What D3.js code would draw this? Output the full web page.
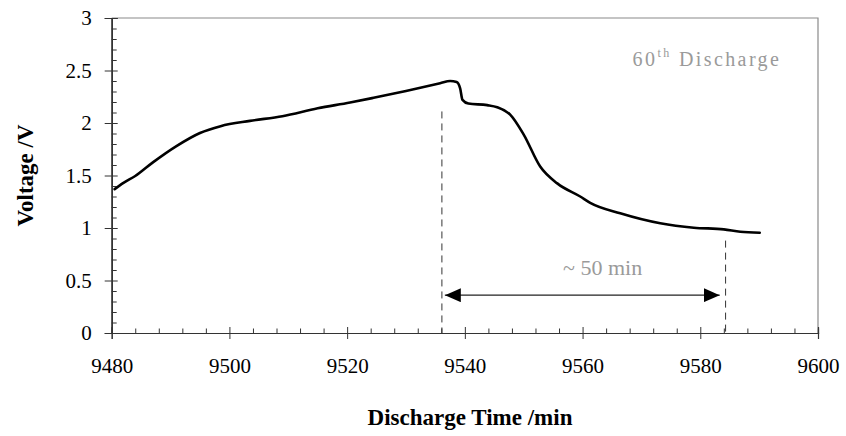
<!DOCTYPE html>
<html><head><meta charset="utf-8">
<script src="https://cdn.jsdelivr.net/npm/d3@7"></script>
<style>
html,body{margin:0;padding:0;background:#fff;}
svg{display:block;font-family:"Liberation Serif","Times New Roman",serif;}
</style></head>
<body>
<svg id="chart" width="846" height="436"></svg>
<script>
// ---- data ----
const time = [9480.5,9482,9484,9487,9491,9495,9498.5,9503.5,9509,9515,9520.5,9524.5,9530,9535.8,9537.5,9538.6,9539.2,9539.6,9540.6,9543.8,9545.5,9547.7,9550,9552.8,9555.7,9559.6,9561.3,9566.4,9573.2,9578.9,9584,9586.8,9590.1];
const voltage = [1.37,1.43,1.495,1.625,1.78,1.905,1.97,2.02,2.065,2.14,2.195,2.24,2.305,2.378,2.40,2.39,2.33,2.22,2.185,2.17,2.15,2.08,1.89,1.585,1.425,1.30,1.24,1.14,1.045,1.003,0.987,0.965,0.955];
const xTicks = [9480,9500,9520,9540,9560,9580,9600];
const yTicks = [0,0.5,1,1.5,2,2.5,3];
const markerTimes = [9536.1,9584.3];
const markerTops = [2.11,0.88];
const arrowSpan = [9536.6,9583.3];
const arrowLevel = 0.36;
const spanLabel = "~ 50 min";
const spanLabelPos = [9563.4, 0.55];
const cycleLabelPos = [9568.5, 2.543];

// ---- layout ----
const svg = d3.select("#chart");
const m = {l:111.7, r:28, t:18, b:103};
const W = 846, H = 436;
const FONT = "'Liberation Serif','Times New Roman',serif";
const x = d3.scaleLinear().domain([9480,9600]).range([m.l, W-m.r]);
const y = d3.scaleLinear().domain([0,3]).range([H-m.b, m.t]);

const minorX = d3.range(9480,9600.01,4).filter(v=>!xTicks.includes(v));
const minorY = d3.range(0,3.001,0.1).map(v=>+v.toFixed(1)).filter(v=>!yTicks.includes(v));

// frame (top & right)
svg.append("path")
  .attr("d",`M${x(9480)},${y(3)}H${x(9600)}V${y(0)}`)
  .attr("fill","none").attr("stroke","#8a8a8a").attr("stroke-width",1.2);

// x axis
const gx = svg.append("g").attr("transform",`translate(0,${y(0)})`);
gx.call(d3.axisBottom(x).tickValues(xTicks).tickSize(6).tickPadding(19).tickFormat(d3.format("d")));
gx.append("g").call(d3.axisBottom(x).tickValues(xTicks).tickSize(-6).tickFormat(""));
gx.append("g").call(d3.axisBottom(x).tickValues(minorX).tickSize(-4.5).tickFormat(""));
gx.attr("font-family",FONT);
gx.selectAll(".domain").attr("stroke","#333").attr("stroke-width",1.2);
gx.selectAll("line").attr("stroke","#333");
gx.selectAll("text").attr("font-size",21).attr("fill","#000").style("font-family",FONT);

// y axis
const gy = svg.append("g").attr("transform",`translate(${x(9480)},0)`);
gy.call(d3.axisLeft(y).tickValues(yTicks).tickSize(7).tickPadding(13).tickFormat(d=>d));
gy.append("g").call(d3.axisLeft(y).tickValues(yTicks).tickSize(-6).tickFormat(""));
gy.append("g").call(d3.axisLeft(y).tickValues(minorY).tickSize(-5).tickFormat(""));
gy.attr("font-family",FONT);
gy.selectAll(".domain").attr("stroke","#333").attr("stroke-width",1.2);
gy.selectAll("line").attr("stroke","#333");
gy.selectAll("text").attr("font-size",21).attr("fill","#000").style("font-family",FONT);

// dashed markers
svg.append("g").selectAll("line").data(markerTimes).join("line")
  .attr("x1",d=>x(d)).attr("x2",d=>x(d))
  .attr("y1",(d,i)=>y(markerTops[i])).attr("y2",y(0))
  .attr("stroke","#333").attr("stroke-width",1).attr("stroke-dasharray","7,5");

// arrow
const defs = svg.append("defs");
defs.append("marker").attr("id","ah").attr("viewBox","0 0 16 14")
  .attr("refX",16).attr("refY",7).attr("markerWidth",16).attr("markerHeight",14)
  .attr("markerUnits","userSpaceOnUse").attr("orient","auto-start-reverse")
  .append("path").attr("d","M0,0L16,7L0,14Z").attr("fill","#000");
svg.append("line")
  .attr("x1",x(arrowSpan[0])).attr("x2",x(arrowSpan[1]))
  .attr("y1",y(arrowLevel)).attr("y2",y(arrowLevel))
  .attr("stroke","#222").attr("stroke-width",1.2)
  .attr("marker-start","url(#ah)").attr("marker-end","url(#ah)");

// curve
const line = d3.line().x((d,i)=>x(time[i])).y((d,i)=>y(voltage[i])).curve(d3.curveMonotoneX);
svg.append("path").datum(voltage).attr("d",line)
  .attr("fill","none").attr("stroke","#000").attr("stroke-width",2.6)
  .attr("stroke-linejoin","round").attr("stroke-linecap","round");

// annotations
svg.append("text").attr("x",x(spanLabelPos[0])).attr("y",y(spanLabelPos[1]))
  .attr("text-anchor","middle").attr("font-size",22).attr("fill","#9a9a9a").text(spanLabel);

const t60 = svg.append("text").attr("x",x(cycleLabelPos[0])).attr("y",y(cycleLabelPos[1]))
  .attr("font-size",20).attr("fill","#9a9a9a").attr("letter-spacing","2.4");
t60.append("tspan").text("60");
t60.append("tspan").attr("font-size",12).attr("dy",-9).text("th");
t60.append("tspan").attr("dy",9).text(" Discharge");

// axis titles
svg.append("text").attr("transform",`translate(33,${(y(0)+y(3))/2}) rotate(-90)`)
  .attr("text-anchor","middle").attr("font-size",23).attr("font-weight","bold").attr("fill","#000")
  .text("Voltage /V");
svg.append("text").attr("x",470).attr("y",425)
  .attr("text-anchor","middle").attr("font-size",23).attr("font-weight","bold").attr("fill","#000")
  .text("Discharge Time /min");
</script>
</body></html>
